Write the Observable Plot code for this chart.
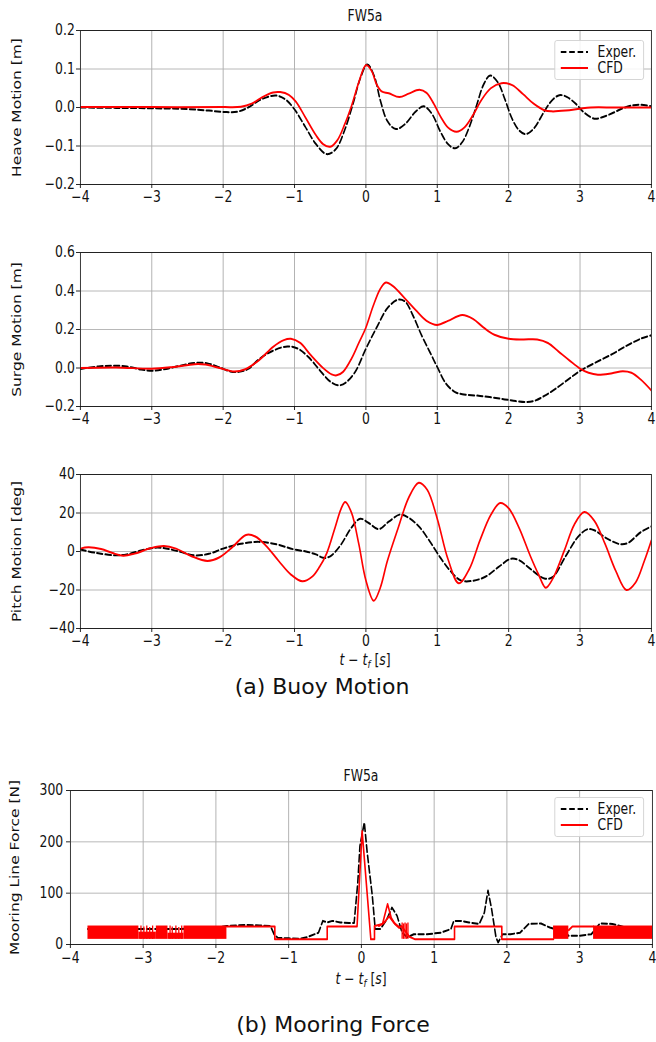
<!DOCTYPE html>
<html><head><meta charset="utf-8">
<script src="https://cdn.jsdelivr.net/npm/d3@7"></script>
<script src="https://cdn.jsdelivr.net/npm/@observablehq/plot@0.6"></script>
<style>
body{margin:0;background:#fff;}
#c{position:relative;width:656px;height:1042px;background:#fff;font-family:"DejaVu Sans",sans-serif;color:#111;overflow:hidden;}
#w{position:absolute;left:0;top:0;width:820px;height:1042px;transform:scaleX(0.8);transform-origin:0 0;}
.p{position:absolute;left:0;}
.t{position:absolute;white-space:nowrap;transform:translate(-50%,-50%);line-height:1;}
.lg{position:absolute;width:112px;height:40px;border:1px solid #d0d0d0;border-radius:3px;background:rgba(255,255,255,0.85);box-sizing:border-box;}
</style></head><body><div id="c"><div id="w"></div></div>
<script>
// ---------- data ----------
const xTicks = [-4,-3,-2,-1,0,1,2,3,4];
const seriesNames = ["Exper.", "CFD"];
const panelTitle = "FW5a";
const captionA = "(a) Buoy Motion";
const captionB = "(b) Mooring Force";

// Heave
const heaveTicks = [-0.2,-0.1,0,0.1,0.2];
const heaveExpT = [-4,-3.5,-3,-2.5,-2.2,-1.95,-1.8,-1.65,-1.5,-1.35,-1.25,-1.12,-1.0,-0.85,-0.7,-0.55,-0.42,-0.3,-0.18,-0.08,0.02,0.12,0.2,0.3,0.42,0.55,0.7,0.81,0.92,1.05,1.15,1.25,1.35,1.45,1.55,1.65,1.74,1.85,1.95,2.05,2.15,2.24,2.35,2.5,2.6,2.71,2.82,2.95,3.05,3.2,3.3,3.45,3.6,3.75,3.85,4.0];
const heaveExpV = [0,-0.001,-0.002,-0.004,-0.008,-0.012,-0.011,0.0,0.018,0.029,0.031,0.02,-0.005,-0.05,-0.095,-0.121,-0.108,-0.06,0.01,0.075,0.112,0.08,0.02,-0.035,-0.056,-0.043,-0.01,0.003,-0.015,-0.065,-0.095,-0.106,-0.09,-0.05,0.005,0.06,0.083,0.065,0.02,-0.03,-0.06,-0.069,-0.055,-0.01,0.017,0.032,0.027,0.008,-0.012,-0.029,-0.026,-0.015,-0.002,0.006,0.007,0.003];
const heaveCfdT = [-4,-3,-2,-1.75,-1.6,-1.45,-1.3,-1.2,-1.08,-0.98,-0.85,-0.7,-0.6,-0.5,-0.4,-0.3,-0.2,-0.1,0.0,0.08,0.15,0.22,0.32,0.47,0.6,0.75,0.85,0.95,1.05,1.15,1.27,1.38,1.5,1.62,1.75,1.9,2.05,2.2,2.35,2.5,2.6,2.8,3.0,3.15,3.5,4.0];
const heaveCfdV = [0.001,0.001,0.001,0.002,0.01,0.027,0.039,0.04,0.033,0.015,-0.025,-0.072,-0.095,-0.102,-0.085,-0.045,0.005,0.065,0.11,0.095,0.06,0.042,0.037,0.027,0.036,0.046,0.038,0.01,-0.025,-0.052,-0.063,-0.052,-0.02,0.02,0.05,0.063,0.058,0.035,0.01,-0.007,-0.01,-0.008,-0.003,0.0,0.0,0.0];

// Surge
const surgeTicks = [-0.2,0,0.2,0.4,0.6];
const surgeExpT = [-4,-3.75,-3.55,-3.35,-3.15,-2.98,-2.8,-2.6,-2.4,-2.22,-2.05,-1.9,-1.78,-1.65,-1.5,-1.3,-1.1,-0.95,-0.8,-0.65,-0.5,-0.38,-0.28,-0.15,0.0,0.15,0.3,0.45,0.55,0.65,0.78,0.9,1.0,1.12,1.25,1.35,1.6,1.9,2.1,2.25,2.38,2.5,2.65,2.85,3.0,3.2,3.45,3.65,3.85,4.0];
const surgeExpV = [-0.005,0.008,0.012,0.008,-0.008,-0.014,-0.005,0.012,0.026,0.024,0.003,-0.018,-0.02,-0.005,0.045,0.09,0.112,0.1,0.055,-0.01,-0.07,-0.09,-0.075,-0.02,0.1,0.21,0.31,0.355,0.345,0.28,0.17,0.08,0.005,-0.08,-0.125,-0.136,-0.145,-0.16,-0.172,-0.177,-0.168,-0.145,-0.11,-0.055,-0.015,0.025,0.072,0.115,0.152,0.17];
const surgeCfdT = [-4,-3.5,-3.0,-2.7,-2.4,-2.25,-2.05,-1.85,-1.7,-1.5,-1.3,-1.15,-1.05,-0.92,-0.78,-0.6,-0.48,-0.41,-0.32,-0.2,-0.1,0.0,0.1,0.2,0.28,0.38,0.55,0.7,0.85,1.0,1.15,1.35,1.5,1.65,1.8,2.0,2.2,2.4,2.55,2.7,2.85,3.0,3.12,3.25,3.45,3.6,3.72,3.85,4.0];
const surgeCfdV = [0.0,0.003,-0.004,0.005,0.02,0.018,0.0,-0.018,-0.008,0.04,0.11,0.145,0.152,0.13,0.07,0.0,-0.033,-0.038,-0.02,0.05,0.13,0.21,0.32,0.41,0.444,0.425,0.36,0.3,0.245,0.224,0.245,0.275,0.255,0.21,0.173,0.152,0.148,0.148,0.13,0.085,0.04,-0.003,-0.025,-0.035,-0.027,-0.017,-0.025,-0.06,-0.117];

// Pitch
const pitchTicks = [-40,-20,0,20,40];
const pitchExpT = [-4,-3.77,-3.5,-3.35,-3.15,-2.95,-2.8,-2.6,-2.4,-2.2,-2.0,-1.75,-1.5,-1.25,-1.02,-0.84,-0.7,-0.6,-0.5,-0.36,-0.2,-0.08,0.04,0.18,0.32,0.48,0.6,0.75,0.9,1.04,1.18,1.33,1.5,1.68,1.86,2.03,2.15,2.3,2.5,2.62,2.79,2.97,3.1,3.2,3.38,3.56,3.67,3.85,4.0];
const pitchExpV = [1,-0.8,-2,-1.5,0.5,2,1.6,-0.2,-2,-1.2,1.5,4,5,3.7,1.2,0,-1.5,-3.3,-2.5,3,12.5,17,14.8,11.6,15.5,19.2,17.5,12.7,5,-3,-10,-15,-15.2,-13,-8,-3.8,-4.6,-8.9,-14,-13.2,-3,7.5,11.5,11,6.7,3.8,4.4,10,13];
const pitchCfdT = [-4,-3.89,-3.71,-3.55,-3.4,-3.24,-3.01,-2.83,-2.66,-2.45,-2.22,-2.05,-1.87,-1.68,-1.55,-1.4,-1.22,-1.05,-0.89,-0.75,-0.65,-0.55,-0.43,-0.35,-0.29,-0.2,-0.1,0.0,0.11,0.2,0.3,0.45,0.6,0.74,0.86,1.0,1.15,1.3,1.45,1.6,1.75,1.88,2.0,2.15,2.3,2.42,2.52,2.62,2.78,2.92,3.06,3.2,3.35,3.5,3.65,3.78,3.9,4.0];
const pitchCfdV = [1.5,2.2,1.3,-0.8,-2.2,-1.1,1.8,2.9,1.5,-2.3,-4.9,-3,2.3,8.6,7.8,3,-5,-12,-15.5,-13,-8,-1,12.7,22,25.7,20,4,-15,-25.6,-19,-5,12,28,35.7,32,17,-4,-16.5,-9,6,19,25.2,22.5,12,-2,-12,-18.8,-14,0.5,14,20.5,16,4,-10,-20,-16,-5,5.8];

// Mooring force
const forceTicks = [0,100,200,300];
const forceExpT = [-3.76,-3.0,-2.5,-2.0,-1.85,-1.6,-1.4,-1.25,-1.2,-1.15,-1.0,-0.85,-0.75,-0.59,-0.53,-0.47,-0.4,-0.29,-0.17,-0.1,-0.05,-0.02,0.04,0.08,0.15,0.19,0.26,0.35,0.42,0.49,0.56,0.63,0.72,0.9,1.09,1.23,1.27,1.37,1.48,1.62,1.69,1.74,1.79,1.85,1.88,1.94,2.05,2.18,2.3,2.47,2.59,2.73,2.85,2.99,3.16,3.28,3.45,3.63,4.0];
const forceExpV = [30,30,30,33,36,38,37,36,20,13,12,11,14,23,46,43,46,43,42,42,120,192,238,179,95,30,30,49,72,56,23,14,20,20,23,30,46,46,43,40,62,105,69,14,4,20,20,23,40,41,33,27,17,17,20,41,40,33,33];
const forceCfdT = [-1.85,-1.19,-1.19,-0.47,-0.47,-0.06,0.01,0.13,0.18,0.18,0.29,0.36,0.41,0.46,0.52,0.55,0.66,0.74,1.28,1.28,1.93,1.93,2.64];
const forceCfdV = [35,35,10,10,35,35,221,10,10,36,40,79,52,40,32,36,15,10,10,35,35,10,10];
const forceCfd2T = [0.24,0.31,0.38,0.45,0.52];
const forceCfd2V = [36,42,55,42,34];
const forceCfd3T = [2.85,2.9,3.19];
const forceCfd3V = [28,35,35];
// intervals where the CFD force oscillates rapidly (drawn as a filled envelope)
const bandStart = [-3.76,-3.06,-2.82,-2.66,-2.44,2.64,3.19];
const bandEnd   = [-3.06,-2.82,-2.66,-2.44,-1.85,2.85,4.0];
const bandLow   = [10,10,10,10,10,10,10];
const bandHigh  = [36,24,36,22,36,36,36];
const spikeT = [-3.03,-2.99,-2.95,-2.91,-2.87,-2.63,-2.6,-2.55,-2.51,-2.47,0.56,0.58,0.6,0.62,0.64];
const spikeHigh = [36,34,36,33,36,36,34,36,33,36,42,40,42,40,42];

// ---------- helpers ----------
const SX = 0.8;               // horizontal compression of the reference figure
const W = 656 / SX;
const X = v => v / SX;        // reference pixel x -> inner x
const zip = (T,V) => T.map((t,i)=>({t, v:V[i]}));
const FONT = '"DejaVu Sans",sans-serif';
const root = document.getElementById("c");
const wrap = document.getElementById("w");

function addText(parent, html, x, y, size) {
  const d = document.createElement("div");
  d.className = "t";
  d.style.left = x+"px"; d.style.top = y+"px"; d.style.fontSize = size+"px";
  d.innerHTML = html;
  parent.appendChild(d);
}
function addLegend(left, top) {
  const d = document.createElement("div");
  d.className = "lg"; d.style.left = X(left)+"px"; d.style.top = top+"px";
  d.innerHTML = `<svg width="112" height="40" style="position:absolute;left:-1px;top:-1px">
    <line x1="8" x2="42" y1="12" y2="12" stroke="#000" stroke-width="2" stroke-dasharray="7,3.5"/>
    <line x1="8" x2="42" y1="28" y2="28" stroke="red" stroke-width="2"/>
    <text x="54" y="17.5" font-size="15.5" font-family='${FONT}' fill="#111">${seriesNames[0]}</text>
    <text x="54" y="33.5" font-size="15.5" font-family='${FONT}' fill="#111">${seriesNames[1]}</text></svg>`;
  wrap.appendChild(d);
}

function panel({top, left, right, yDomain, yTicks, fmt, ylabel, lines, labelCenter, xPad = 2, yPad = 2}) {
  const marginTop = 30, marginBottom = 42, inner = 154;
  const mL = X(left), mR = W - X(right);
  const chart = Plot.plot({
    width: W, height: marginTop + inner + marginBottom,
    marginTop, marginBottom, marginLeft: mL, marginRight: mR,
    x: {domain: [-4, 4]},
    y: {domain: yDomain},
    style: {fontFamily: FONT, fontSize: "15.5px", color: "#111", background: "transparent"},
    marks: [
      Plot.gridX(xTicks, {stroke: "#b0b0b0", strokeOpacity: 1, strokeWidth: 1.2}),
      Plot.gridY(yTicks, {stroke: "#b0b0b0", strokeOpacity: 1, strokeWidth: 1}),
      ...lines,
      Plot.frame({stroke: "#222", strokeWidth: 1}),
      Plot.axisX(xTicks, {tickSize: 4, tickPadding: xPad, tickFormat: d3.format("d"), label: null, fontSize: 15.5}),
      Plot.axisY(yTicks, {tickSize: 5, tickPadding: yPad, tickFormat: fmt, label: ylabel, labelAnchor: "center", labelArrow: "none",
        labelOffset: mL + 9.3 - X(labelCenter), fontSize: 15.5})
    ]
  });
  chart.classList.add("p");
  chart.style.top = (top - marginTop) + "px";
  chart.style.position = "absolute";
  wrap.appendChild(chart);
}

const expLine = (data, curve) => Plot.line(data, {x: "t", y: "v", stroke: "#000", strokeWidth: 2, strokeDasharray: "7,3.5", curve, clip: true});
const cfdLine = (data, curve) => Plot.line(data, {x: "t", y: "v", stroke: "red", strokeWidth: 2, curve, clip: true});

panel({top: 30, left: 80, right: 651, yDomain: [-0.2, 0.2], yTicks: heaveTicks, fmt: d3.format(".1f"),
  ylabel: "Heave Motion [m]", labelCenter: 19,
  lines: [expLine(zip(heaveExpT, heaveExpV), "catmull-rom"), cfdLine(zip(heaveCfdT, heaveCfdV), "catmull-rom")]});
panel({top: 252, left: 80, right: 651, yDomain: [-0.2, 0.6], yTicks: surgeTicks, fmt: d3.format(".1f"),
  ylabel: "Surge Motion [m]", labelCenter: 19,
  lines: [expLine(zip(surgeExpT, surgeExpV), "catmull-rom"), cfdLine(zip(surgeCfdT, surgeCfdV), "catmull-rom")]});
panel({top: 474, left: 80, right: 651, yDomain: [-40, 40], yTicks: pitchTicks, fmt: d3.format("d"),
  ylabel: "Pitch Motion [deg]", labelCenter: 19,
  lines: [expLine(zip(pitchExpT, pitchExpV), "catmull-rom"), cfdLine(zip(pitchCfdT, pitchCfdV), "catmull-rom")]});
const bands = bandStart.map((s,i)=>({s, e: bandEnd[i], lo: bandLow[i], hi: bandHigh[i]}));
const spikes = spikeT.map((t,i)=>({t, h: spikeHigh[i]}));
panel({top: 790, left: 70, right: 652, yDomain: [0, 300], yTicks: forceTicks, fmt: d3.format("d"),
  ylabel: "Mooring Line Force [N]", labelCenter: 17, xPad: 3.5, yPad: 4,
  lines: [
    expLine(zip(forceExpT, forceExpV), "linear"),
    Plot.rect(bands, {x1: "s", x2: "e", y1: "lo", y2: "hi", fill: "red"}),
    Plot.ruleX(spikes, {x: "t", y1: () => 10, y2: "h", stroke: "red", strokeWidth: 1.6}),
    cfdLine(zip(forceCfdT, forceCfdV), "linear"),
    cfdLine(zip(forceCfd2T, forceCfd2V), "linear"),
    cfdLine(zip(forceCfd3T, forceCfd3V), "linear")
  ]});

// Titles, axis labels, legends (inside the compressed layer)
addText(wrap, panelTitle, X(365), 17, 15.5);
addText(wrap, panelTitle, X(361), 777, 15.5);
const xl = '<i>t</i> − <i>t</i><sub style="font-size:0.7em;vertical-align:-0.25em"><i>f</i></sub> [<i>s</i>]';
addText(wrap, xl, X(365), 662, 15.5);
addText(wrap, xl, X(361), 981, 15.5);
addLegend(554, 40);
addLegend(554, 797);
// Captions
addText(root, captionA, 322, 687, 22);
addText(root, captionB, 333, 1025, 22);
</script></body></html>
